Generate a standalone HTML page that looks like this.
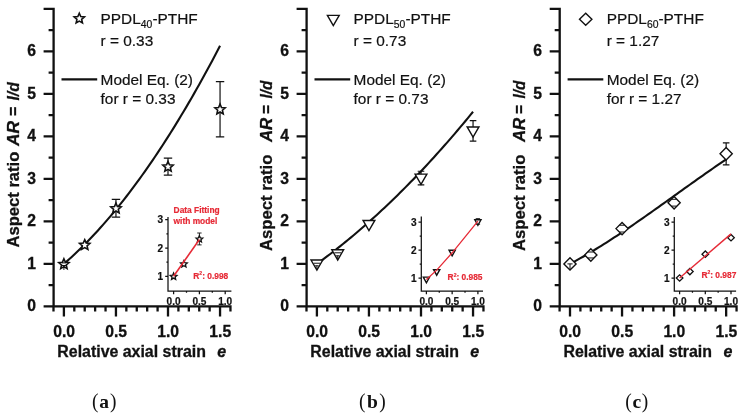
<!DOCTYPE html>
<html lang="en"><head><meta charset="utf-8"><title>Aspect ratio vs relative axial strain</title>
<style>html,body{margin:0;padding:0;background:#fff}body{width:745px;height:420px;overflow:hidden}svg{display:block}</style>
</head><body>
<svg width="745" height="420" viewBox="0 0 745 420">
<rect width="745" height="420" fill="#fff"/>
<g>
<path d="M53.60 7.75V307.55M52.45 306.40H231.61M43.60 306.40H53.60M43.60 263.90H53.60M43.60 221.40H53.60M43.60 178.90H53.60M43.60 136.40H53.60M43.60 93.90H53.60M43.60 51.40H53.60M43.60 8.90H53.60M48.60 285.15H53.60M48.60 242.65H53.60M48.60 200.15H53.60M48.60 157.65H53.60M48.60 115.15H53.60M48.60 72.65H53.60M48.60 30.15H53.60M53.49 306.40V311.40M63.90 306.40V316.40M74.31 306.40V311.40M84.72 306.40V311.40M95.13 306.40V311.40M105.54 306.40V311.40M115.95 306.40V316.40M126.36 306.40V311.40M136.77 306.40V311.40M147.18 306.40V311.40M157.59 306.40V311.40M168.00 306.40V316.40M178.41 306.40V311.40M188.82 306.40V311.40M199.23 306.40V311.40M209.64 306.40V311.40M220.05 306.40V316.40M230.46 306.40V311.40" stroke="#111" stroke-width="2.30" fill="none"/>
<g font-family="Liberation Sans, Arial, sans-serif" font-weight="bold" font-size="15.7" fill="#111" stroke="#111" stroke-width="0.3">
<text x="35.90" y="311.10" text-anchor="end">0</text>
<text x="35.90" y="268.60" text-anchor="end">1</text>
<text x="35.90" y="226.10" text-anchor="end">2</text>
<text x="35.90" y="183.60" text-anchor="end">3</text>
<text x="35.90" y="141.10" text-anchor="end">4</text>
<text x="35.90" y="98.60" text-anchor="end">5</text>
<text x="35.90" y="56.10" text-anchor="end">6</text>
<text x="64.10" y="337.3" text-anchor="middle">0.0</text>
<text x="116.15" y="337.3" text-anchor="middle">0.5</text>
<text x="168.20" y="337.3" text-anchor="middle">1.0</text>
<text x="220.25" y="337.3" text-anchor="middle">1.5</text>
</g>
<g font-family="Liberation Sans, Arial, sans-serif" font-weight="bold" font-size="16" fill="#111" stroke="#111" stroke-width="0.3">
<text transform="translate(18.60 247.50) rotate(-90)" textLength="95.8" lengthAdjust="spacingAndGlyphs">Aspect ratio</text>
<text transform="translate(18.60 146.00) rotate(-90)" textLength="25.1" lengthAdjust="spacingAndGlyphs" font-style="italic">AR</text>
<text transform="translate(18.60 116.10) rotate(-90)" textLength="9.3" lengthAdjust="spacingAndGlyphs">=</text>
<text transform="translate(18.60 100.50) rotate(-90)" textLength="18.3" lengthAdjust="spacingAndGlyphs" font-style="italic">l/d</text>
<text x="57.30" y="356.6" textLength="148.6" lengthAdjust="spacingAndGlyphs">Relative axial strain</text>
<text x="217.30" y="356.6" font-style="italic">e</text>
</g>
<g font-family="Liberation Sans, Arial, sans-serif" font-size="15.4" fill="#111" stroke="#111" stroke-width="0.2">
<text x="100.60" y="24">PPDL<tspan font-size="10.4" dy="4">40</tspan><tspan dy="-4">-PTHF</tspan></text>
<text x="100.60" y="46.3">r = 0.33</text>
<text x="100.60" y="84.6">Model Eq. (2)</text>
<text x="100.60" y="103.6">for r = 0.33</text>
</g>
<path d="M61.50 79.4H97.20" stroke="#111" stroke-width="2.2"/>
<polygon points="79.30,13.20 80.76,16.59 84.44,16.93 81.66,19.37 82.47,22.97 79.30,21.08 76.13,22.97 76.94,19.37 74.16,16.93 77.84,16.59" fill="#fff" stroke="#111" stroke-width="1.60" stroke-linejoin="miter"/>
<polyline points="63.90,263.90 66.50,261.62 69.11,259.29 71.71,256.92 74.31,254.50 76.91,252.04 79.52,249.53 82.12,246.97 84.72,244.37 87.32,241.72 89.92,239.03 92.53,236.29 95.13,233.50 97.73,230.67 100.33,227.79 102.94,224.87 105.54,221.90 108.14,218.88 110.75,215.82 113.35,212.72 115.95,209.56 118.55,206.36 121.16,203.12 123.76,199.83 126.36,196.49 128.96,193.11 131.56,189.68 134.17,186.21 136.77,182.69 139.37,179.12 141.97,175.51 144.58,171.85 147.18,168.15 149.78,164.40 152.38,160.60 154.99,156.76 157.59,152.88 160.19,148.94 162.79,144.96 165.40,140.94 168.00,136.87 170.60,132.75 173.20,128.59 175.81,124.38 178.41,120.13 181.01,115.82 183.61,111.48 186.22,107.09 188.82,102.65 191.42,98.16 194.03,93.63 196.63,89.06 199.23,84.44 201.83,79.77 204.44,75.06 207.04,70.30 209.64,65.49 212.24,60.64 214.84,55.74 217.45,50.80 220.05,45.81" fill="none" stroke="#111" stroke-width="2.1"/>
<polygon points="63.90,258.80 65.36,262.19 69.04,262.53 66.26,264.97 67.07,268.57 63.90,266.68 60.73,268.57 61.54,264.97 58.76,262.53 62.44,262.19" fill="#fff" stroke="#111" stroke-width="1.60" stroke-linejoin="miter"/>
<path d="M61.70 262.90h4.4M61.70 265.50h4.4M63.90 265.50V269.90" stroke="#111" stroke-width="1" fill="none"/>
<polygon points="84.72,239.67 86.18,243.07 89.86,243.41 87.08,245.84 87.89,249.44 84.72,247.56 81.55,249.44 82.36,245.84 79.58,243.41 83.26,243.07" fill="#fff" stroke="#111" stroke-width="1.60" stroke-linejoin="miter"/>
<path d="M115.95 199.30V217.15M111.75 199.30H120.15M111.75 217.15H120.15" stroke="#111" stroke-width="1.20" fill="none"/>
<polygon points="115.95,203.12 117.41,206.52 121.09,206.86 118.31,209.29 119.12,212.89 115.95,211.01 112.78,212.89 113.59,209.29 110.81,206.86 114.49,206.52" fill="#fff" stroke="#111" stroke-width="1.60" stroke-linejoin="miter"/>
<path d="M168.00 158.07V175.07M163.80 158.07H172.20M163.80 175.07H172.20" stroke="#111" stroke-width="1.20" fill="none"/>
<polygon points="168.00,161.47 169.46,164.87 173.14,165.21 170.36,167.64 171.17,171.24 168.00,169.36 164.83,171.24 165.64,167.64 162.86,165.21 166.54,164.87" fill="#fff" stroke="#111" stroke-width="1.60" stroke-linejoin="miter"/>
<path d="M220.05 81.57V136.82M215.85 81.57H224.25M215.85 136.82H224.25" stroke="#111" stroke-width="1.20" fill="none"/>
<polygon points="220.05,104.10 221.51,107.49 225.19,107.83 222.41,110.27 223.22,113.87 220.05,111.98 216.88,113.87 217.69,110.27 214.91,107.83 218.59,107.49" fill="#fff" stroke="#111" stroke-width="1.60" stroke-linejoin="miter"/>
<path d="M168.00 217.00V291.00H231.40M165.20 276.30H168.00M165.20 248.00H168.00M165.20 219.70H168.00M166.40 262.15H168.00M166.40 233.85H168.00M173.60 291.00V294.20M199.40 291.00V294.20M225.20 291.00V294.20M186.50 291.00V292.80M212.30 291.00V292.80" stroke="#111" stroke-width="1.25" fill="none"/>
<g font-family="Liberation Sans, Arial, sans-serif" font-weight="bold" font-size="10.1" fill="#111" stroke="#111" stroke-width="0.2">
<text x="163.20" y="279.80" text-anchor="end">1</text>
<text x="163.20" y="251.50" text-anchor="end">2</text>
<text x="163.20" y="223.20" text-anchor="end">3</text>
<text x="173.60" y="304.7" text-anchor="middle">0.0</text>
<text x="199.40" y="304.7" text-anchor="middle">0.5</text>
<text x="225.20" y="304.7" text-anchor="middle">1.0</text>
</g>
<polygon points="173.60,273.00 174.55,275.20 176.93,275.42 175.13,277.00 175.66,279.33 173.60,278.11 171.54,279.33 172.07,277.00 170.27,275.42 172.65,275.20" fill="#fff" stroke="#111" stroke-width="1.30" stroke-linejoin="miter"/>
<polygon points="183.92,260.55 184.87,262.75 187.25,262.97 185.45,264.55 185.98,266.88 183.92,265.66 181.86,266.88 182.39,264.55 180.59,262.97 182.97,262.75" fill="#fff" stroke="#111" stroke-width="1.30" stroke-linejoin="miter"/>
<path d="M199.40 233.00V244.89M197.20 233.00H201.60M197.20 244.89H201.60" stroke="#111" stroke-width="0.90" fill="none"/>
<polygon points="199.40,235.64 200.35,237.84 202.73,238.06 200.93,239.64 201.46,241.98 199.40,240.75 197.34,241.98 197.87,239.64 196.07,238.06 198.45,237.84" fill="#fff" stroke="#111" stroke-width="1.30" stroke-linejoin="miter"/>
<polyline points="173.60,276.30 199.40,239.51" fill="none" stroke="#e62a36" stroke-width="1.60"/>
<g font-family="Liberation Sans, Arial, sans-serif" font-weight="bold" font-size="8.4" fill="#e62a36" stroke="#e62a36" stroke-width="0.2">
<text x="173.6" y="212.9">Data Fitting</text>
<text x="173.6" y="223.7">with model</text>
<text x="193.30" y="278.60">R<tspan font-size="5" dy="-3.2">2</tspan><tspan dy="3.2">: 0.998</tspan></text>
</g>
<g font-family="Liberation Serif, Times New Roman, serif" font-size="19.5" fill="#111">
<text transform="translate(92.00 407.9) scale(1 1.08)" text-anchor="start">(</text>
<text x="104.20" y="407.5" text-anchor="middle" font-weight="bold">a</text>
<text transform="translate(116.40 407.9) scale(1 1.08)" text-anchor="end">)</text>
</g>
</g>
<g>
<path d="M306.60 7.75V307.55M305.45 306.40H484.61M296.60 306.40H306.60M296.60 263.90H306.60M296.60 221.40H306.60M296.60 178.90H306.60M296.60 136.40H306.60M296.60 93.90H306.60M296.60 51.40H306.60M296.60 8.90H306.60M301.60 285.15H306.60M301.60 242.65H306.60M301.60 200.15H306.60M301.60 157.65H306.60M301.60 115.15H306.60M301.60 72.65H306.60M301.60 30.15H306.60M306.49 306.40V311.40M316.90 306.40V316.40M327.31 306.40V311.40M337.72 306.40V311.40M348.13 306.40V311.40M358.54 306.40V311.40M368.95 306.40V316.40M379.36 306.40V311.40M389.77 306.40V311.40M400.18 306.40V311.40M410.59 306.40V311.40M421.00 306.40V316.40M431.41 306.40V311.40M441.82 306.40V311.40M452.23 306.40V311.40M462.64 306.40V311.40M473.05 306.40V316.40M483.46 306.40V311.40" stroke="#111" stroke-width="2.30" fill="none"/>
<g font-family="Liberation Sans, Arial, sans-serif" font-weight="bold" font-size="15.7" fill="#111" stroke="#111" stroke-width="0.3">
<text x="288.90" y="311.10" text-anchor="end">0</text>
<text x="288.90" y="268.60" text-anchor="end">1</text>
<text x="288.90" y="226.10" text-anchor="end">2</text>
<text x="288.90" y="183.60" text-anchor="end">3</text>
<text x="288.90" y="141.10" text-anchor="end">4</text>
<text x="288.90" y="98.60" text-anchor="end">5</text>
<text x="288.90" y="56.10" text-anchor="end">6</text>
<text x="317.10" y="337.3" text-anchor="middle">0.0</text>
<text x="369.15" y="337.3" text-anchor="middle">0.5</text>
<text x="421.20" y="337.3" text-anchor="middle">1.0</text>
<text x="473.25" y="337.3" text-anchor="middle">1.5</text>
</g>
<g font-family="Liberation Sans, Arial, sans-serif" font-weight="bold" font-size="16" fill="#111" stroke="#111" stroke-width="0.3">
<text transform="translate(271.60 251.00) rotate(-90)" textLength="96.4" lengthAdjust="spacingAndGlyphs">Aspect ratio</text>
<text transform="translate(271.60 142.00) rotate(-90)" textLength="24.2" lengthAdjust="spacingAndGlyphs" font-style="italic">AR</text>
<text transform="translate(271.60 113.90) rotate(-90)" textLength="9.1" lengthAdjust="spacingAndGlyphs">=</text>
<text transform="translate(271.60 98.40) rotate(-90)" textLength="17.8" lengthAdjust="spacingAndGlyphs" font-style="italic">l/d</text>
<text x="310.30" y="356.6" textLength="148.6" lengthAdjust="spacingAndGlyphs">Relative axial strain</text>
<text x="470.30" y="356.6" font-style="italic">e</text>
</g>
<g font-family="Liberation Sans, Arial, sans-serif" font-size="15.4" fill="#111" stroke="#111" stroke-width="0.2">
<text x="353.60" y="24">PPDL<tspan font-size="10.4" dy="4">50</tspan><tspan dy="-4">-PTHF</tspan></text>
<text x="353.60" y="46.3">r = 0.73</text>
<text x="353.60" y="84.6">Model Eq. (2)</text>
<text x="353.60" y="103.6">for r = 0.73</text>
</g>
<path d="M314.50 79.4H350.20" stroke="#111" stroke-width="2.2"/>
<polygon points="327.40,15.40 339.20,15.40 333.30,25.60" fill="#fff" stroke="#111" stroke-width="1.40" stroke-linejoin="miter"/>
<polyline points="316.90,263.90 319.50,262.01 322.10,260.10 324.71,258.17 327.31,256.21 329.91,254.24 332.51,252.24 335.12,250.22 337.72,248.17 340.32,246.11 342.92,244.02 345.53,241.92 348.13,239.79 350.73,237.63 353.33,235.46 355.94,233.26 358.54,231.05 361.14,228.81 363.75,226.54 366.35,224.26 368.95,221.95 371.55,219.63 374.15,217.28 376.76,214.91 379.36,212.51 381.96,210.10 384.56,207.66 387.17,205.20 389.77,202.72 392.37,200.22 394.97,197.69 397.58,195.15 400.18,192.58 402.78,189.99 405.38,187.37 407.99,184.74 410.59,182.08 413.19,179.40 415.79,176.70 418.40,173.98 421.00,171.24 423.60,168.47 426.20,165.68 428.81,162.87 431.41,160.04 434.01,157.19 436.61,154.31 439.22,151.41 441.82,148.49 444.42,145.55 447.02,142.59 449.63,139.60 452.23,136.60 454.83,133.57 457.43,130.52 460.04,127.44 462.64,124.35 465.24,121.23 467.84,118.09 470.45,114.93 473.05,111.75" fill="none" stroke="#111" stroke-width="2.1"/>
<polygon points="311.00,260.00 322.80,260.00 316.90,270.20" fill="#fff" stroke="#111" stroke-width="1.40" stroke-linejoin="miter"/>
<path d="M313.67 263.23H320.13M315.14 265.77H318.66M316.90 265.77V269.40" stroke="#111" stroke-width="1" fill="none"/>
<polygon points="331.82,249.80 343.62,249.80 337.72,260.00" fill="#fff" stroke="#111" stroke-width="1.40" stroke-linejoin="miter"/>
<path d="M334.36 252.81H341.08M336.08 255.79H339.36M337.72 255.79V259.20" stroke="#111" stroke-width="1" fill="none"/>
<polygon points="363.05,220.47 374.85,220.47 368.95,230.68" fill="#fff" stroke="#111" stroke-width="1.40" stroke-linejoin="miter"/>
<path d="M421.00 171.25V184.85M417.70 171.25H424.30M417.70 184.85H424.30" stroke="#111" stroke-width="1.20" fill="none"/>
<polygon points="415.10,174.15 426.90,174.15 421.00,184.35" fill="#fff" stroke="#111" stroke-width="1.40" stroke-linejoin="miter"/>
<path d="M473.05 120.67V141.07M469.75 120.67H476.35M469.75 141.07H476.35" stroke="#111" stroke-width="1.20" fill="none"/>
<polygon points="467.15,126.97 478.95,126.97 473.05,137.17" fill="#fff" stroke="#111" stroke-width="1.40" stroke-linejoin="miter"/>
<path d="M421.30 216.40V291.00H483.00M418.50 278.00H421.30M418.50 250.00H421.30M418.50 222.00H421.30M419.70 264.00H421.30M419.70 236.00H421.30M426.40 291.00V294.20M452.15 291.00V294.20M477.90 291.00V294.20M439.27 291.00V292.80M465.02 291.00V292.80" stroke="#111" stroke-width="1.25" fill="none"/>
<g font-family="Liberation Sans, Arial, sans-serif" font-weight="bold" font-size="10.1" fill="#111" stroke="#111" stroke-width="0.2">
<text x="416.50" y="281.50" text-anchor="end">1</text>
<text x="416.50" y="253.50" text-anchor="end">2</text>
<text x="416.50" y="225.50" text-anchor="end">3</text>
<text x="426.40" y="304.7" text-anchor="middle">0.0</text>
<text x="452.15" y="304.7" text-anchor="middle">0.5</text>
<text x="477.90" y="304.7" text-anchor="middle">1.0</text>
</g>
<polygon points="423.30,277.17 429.50,277.17 426.40,282.77" fill="#fff" stroke="#111" stroke-width="1.40" stroke-linejoin="miter"/>
<polygon points="433.60,269.61 439.80,269.61 436.70,275.21" fill="#fff" stroke="#111" stroke-width="1.40" stroke-linejoin="miter"/>
<polygon points="449.05,250.29 455.25,250.29 452.15,255.89" fill="#fff" stroke="#111" stroke-width="1.40" stroke-linejoin="miter"/>
<path d="M477.90 218.64V224.24M475.70 218.64H480.10M475.70 224.24H480.10" stroke="#111" stroke-width="0.90" fill="none"/>
<polygon points="474.80,219.77 481.00,219.77 477.90,225.37" fill="#fff" stroke="#111" stroke-width="1.40" stroke-linejoin="miter"/>
<polyline points="426.40,279.40 436.70,270.16 452.15,252.80 477.90,221.16" fill="none" stroke="#e62a36" stroke-width="1.30"/>
<g font-family="Liberation Sans, Arial, sans-serif" font-weight="bold" font-size="8.4" fill="#e62a36" stroke="#e62a36" stroke-width="0.2">
<text x="447.60" y="280.00">R<tspan font-size="5" dy="-3.2">2</tspan><tspan dy="3.2">: 0.985</tspan></text>
</g>
<g font-family="Liberation Serif, Times New Roman, serif" font-size="19.5" fill="#111">
<text transform="translate(359.10 407.9) scale(1 1.08)" text-anchor="start">(</text>
<text x="372.40" y="407.5" text-anchor="middle" font-weight="bold">b</text>
<text transform="translate(385.70 407.9) scale(1 1.08)" text-anchor="end">)</text>
</g>
</g>
<g>
<path d="M559.70 7.75V307.55M558.55 306.40H737.71M549.70 306.40H559.70M549.70 263.90H559.70M549.70 221.40H559.70M549.70 178.90H559.70M549.70 136.40H559.70M549.70 93.90H559.70M549.70 51.40H559.70M549.70 8.90H559.70M554.70 285.15H559.70M554.70 242.65H559.70M554.70 200.15H559.70M554.70 157.65H559.70M554.70 115.15H559.70M554.70 72.65H559.70M554.70 30.15H559.70M559.59 306.40V311.40M570.00 306.40V316.40M580.41 306.40V311.40M590.82 306.40V311.40M601.23 306.40V311.40M611.64 306.40V311.40M622.05 306.40V316.40M632.46 306.40V311.40M642.87 306.40V311.40M653.28 306.40V311.40M663.69 306.40V311.40M674.10 306.40V316.40M684.51 306.40V311.40M694.92 306.40V311.40M705.33 306.40V311.40M715.74 306.40V311.40M726.15 306.40V316.40M736.56 306.40V311.40" stroke="#111" stroke-width="2.30" fill="none"/>
<g font-family="Liberation Sans, Arial, sans-serif" font-weight="bold" font-size="15.7" fill="#111" stroke="#111" stroke-width="0.3">
<text x="542.00" y="311.10" text-anchor="end">0</text>
<text x="542.00" y="268.60" text-anchor="end">1</text>
<text x="542.00" y="226.10" text-anchor="end">2</text>
<text x="542.00" y="183.60" text-anchor="end">3</text>
<text x="542.00" y="141.10" text-anchor="end">4</text>
<text x="542.00" y="98.60" text-anchor="end">5</text>
<text x="542.00" y="56.10" text-anchor="end">6</text>
<text x="570.20" y="337.3" text-anchor="middle">0.0</text>
<text x="622.25" y="337.3" text-anchor="middle">0.5</text>
<text x="674.30" y="337.3" text-anchor="middle">1.0</text>
<text x="726.35" y="337.3" text-anchor="middle">1.5</text>
</g>
<g font-family="Liberation Sans, Arial, sans-serif" font-weight="bold" font-size="16" fill="#111" stroke="#111" stroke-width="0.3">
<text transform="translate(524.70 251.00) rotate(-90)" textLength="96.4" lengthAdjust="spacingAndGlyphs">Aspect ratio</text>
<text transform="translate(524.70 142.00) rotate(-90)" textLength="24.2" lengthAdjust="spacingAndGlyphs" font-style="italic">AR</text>
<text transform="translate(524.70 113.90) rotate(-90)" textLength="9.1" lengthAdjust="spacingAndGlyphs">=</text>
<text transform="translate(524.70 98.40) rotate(-90)" textLength="17.8" lengthAdjust="spacingAndGlyphs" font-style="italic">l/d</text>
<text x="563.40" y="356.6" textLength="148.6" lengthAdjust="spacingAndGlyphs">Relative axial strain</text>
<text x="723.40" y="356.6" font-style="italic">e</text>
</g>
<g font-family="Liberation Sans, Arial, sans-serif" font-size="15.4" fill="#111" stroke="#111" stroke-width="0.2">
<text x="606.70" y="24">PPDL<tspan font-size="10.4" dy="4">60</tspan><tspan dy="-4">-PTHF</tspan></text>
<text x="606.70" y="46.3">r = 1.27</text>
<text x="606.70" y="84.6">Model Eq. (2)</text>
<text x="606.70" y="103.6">for r = 1.27</text>
</g>
<path d="M567.60 79.4H603.30" stroke="#111" stroke-width="2.2"/>
<polygon points="579.50,19.30 585.70,13.30 591.90,19.30 585.70,25.30" fill="#fff" stroke="#111" stroke-width="1.40" stroke-linejoin="miter"/>
<polyline points="570.00,263.90 572.60,262.51 575.21,261.09 577.81,259.66 580.41,258.20 583.01,256.72 585.62,255.22 588.22,253.70 590.82,252.15 593.42,250.59 596.02,249.01 598.63,247.42 601.23,245.80 603.83,244.17 606.43,242.52 609.04,240.86 611.64,239.18 614.24,237.49 616.85,235.78 619.45,234.06 622.05,232.33 624.65,230.58 627.25,228.83 629.86,227.06 632.46,225.28 635.06,223.50 637.66,221.70 640.27,219.89 642.87,218.08 645.47,216.26 648.08,214.43 650.68,212.60 653.28,210.76 655.88,208.92 658.49,207.07 661.09,205.21 663.69,203.36 666.29,201.50 668.89,199.64 671.50,197.78 674.10,195.91 676.70,194.05 679.30,192.19 681.91,190.32 684.51,188.46 687.11,186.60 689.72,184.74 692.32,182.89 694.92,181.04 697.52,179.20 700.12,177.35 702.73,175.52 705.33,173.69 707.93,171.87 710.53,170.05 713.14,168.24 715.74,166.45 718.34,164.66 720.94,162.87 723.55,161.10 726.15,159.35" fill="none" stroke="#111" stroke-width="2.1"/>
<polygon points="563.90,263.90 570.00,257.70 576.10,263.90 570.00,270.10" fill="#fff" stroke="#111" stroke-width="1.40" stroke-linejoin="miter"/>
<path d="M567.40 263.90H572.60M570.00 263.90V269.40" stroke="#111" stroke-width="1" fill="none"/>
<polygon points="584.72,254.97 590.82,248.77 596.92,254.97 590.82,261.17" fill="#fff" stroke="#111" stroke-width="1.40" stroke-linejoin="miter"/>
<path d="M587.85 252.00H593.79M587.85 257.95H593.79" stroke="#111" stroke-width="1" fill="none"/>
<polygon points="615.95,228.62 622.05,222.42 628.15,228.62 622.05,234.82" fill="#fff" stroke="#111" stroke-width="1.40" stroke-linejoin="miter"/>
<path d="M619.50 225.22H624.60M619.50 232.02H624.60" stroke="#111" stroke-width="1" fill="none"/>
<polygon points="668.00,202.70 674.10,196.50 680.20,202.70 674.10,208.90" fill="#fff" stroke="#111" stroke-width="1.40" stroke-linejoin="miter"/>
<path d="M671.55 199.30H676.65M671.55 206.10H676.65" stroke="#111" stroke-width="1" fill="none"/>
<path d="M726.15 142.78V164.87M722.85 142.78H729.45M722.85 164.87H729.45" stroke="#111" stroke-width="1.20" fill="none"/>
<polygon points="720.05,153.82 726.15,147.62 732.25,153.82 726.15,160.02" fill="#fff" stroke="#111" stroke-width="1.40" stroke-linejoin="miter"/>
<path d="M674.30 217.00V291.00H736.10M671.50 278.00H674.30M671.50 250.00H674.30M671.50 222.00H674.30M672.70 264.00H674.30M672.70 236.00H674.30M679.60 291.00V294.20M705.30 291.00V294.20M731.00 291.00V294.20M692.45 291.00V292.80M718.15 291.00V292.80" stroke="#111" stroke-width="1.25" fill="none"/>
<g font-family="Liberation Sans, Arial, sans-serif" font-weight="bold" font-size="10.1" fill="#111" stroke="#111" stroke-width="0.2">
<text x="669.50" y="281.50" text-anchor="end">1</text>
<text x="669.50" y="253.50" text-anchor="end">2</text>
<text x="669.50" y="225.50" text-anchor="end">3</text>
<text x="679.60" y="304.7" text-anchor="middle">0.0</text>
<text x="705.30" y="304.7" text-anchor="middle">0.5</text>
<text x="731.00" y="304.7" text-anchor="middle">1.0</text>
</g>
<polygon points="676.30,278.00 679.60,274.80 682.90,278.00 679.60,281.20" fill="#fff" stroke="#111" stroke-width="1.30" stroke-linejoin="miter"/>
<polygon points="686.58,271.56 689.88,268.36 693.18,271.56 689.88,274.76" fill="#fff" stroke="#111" stroke-width="1.30" stroke-linejoin="miter"/>
<polygon points="702.00,254.20 705.30,251.00 708.60,254.20 705.30,257.40" fill="#fff" stroke="#111" stroke-width="1.30" stroke-linejoin="miter"/>
<polygon points="727.70,237.68 731.00,234.48 734.30,237.68 731.00,240.88" fill="#fff" stroke="#111" stroke-width="1.30" stroke-linejoin="miter"/>
<polyline points="679.60,278.00 731.00,233.90" fill="none" stroke="#e62a36" stroke-width="1.40"/>
<g font-family="Liberation Sans, Arial, sans-serif" font-weight="bold" font-size="8.4" fill="#e62a36" stroke="#e62a36" stroke-width="0.2">
<text x="701.40" y="277.60">R<tspan font-size="5" dy="-3.2">2</tspan><tspan dy="3.2">: 0.987</tspan></text>
</g>
<g font-family="Liberation Serif, Times New Roman, serif" font-size="19.5" fill="#111">
<text transform="translate(625.35 407.9) scale(1 1.08)" text-anchor="start">(</text>
<text x="636.80" y="407.5" text-anchor="middle" font-weight="bold">c</text>
<text transform="translate(648.25 407.9) scale(1 1.08)" text-anchor="end">)</text>
</g>
</g>
</svg>
</body></html>
